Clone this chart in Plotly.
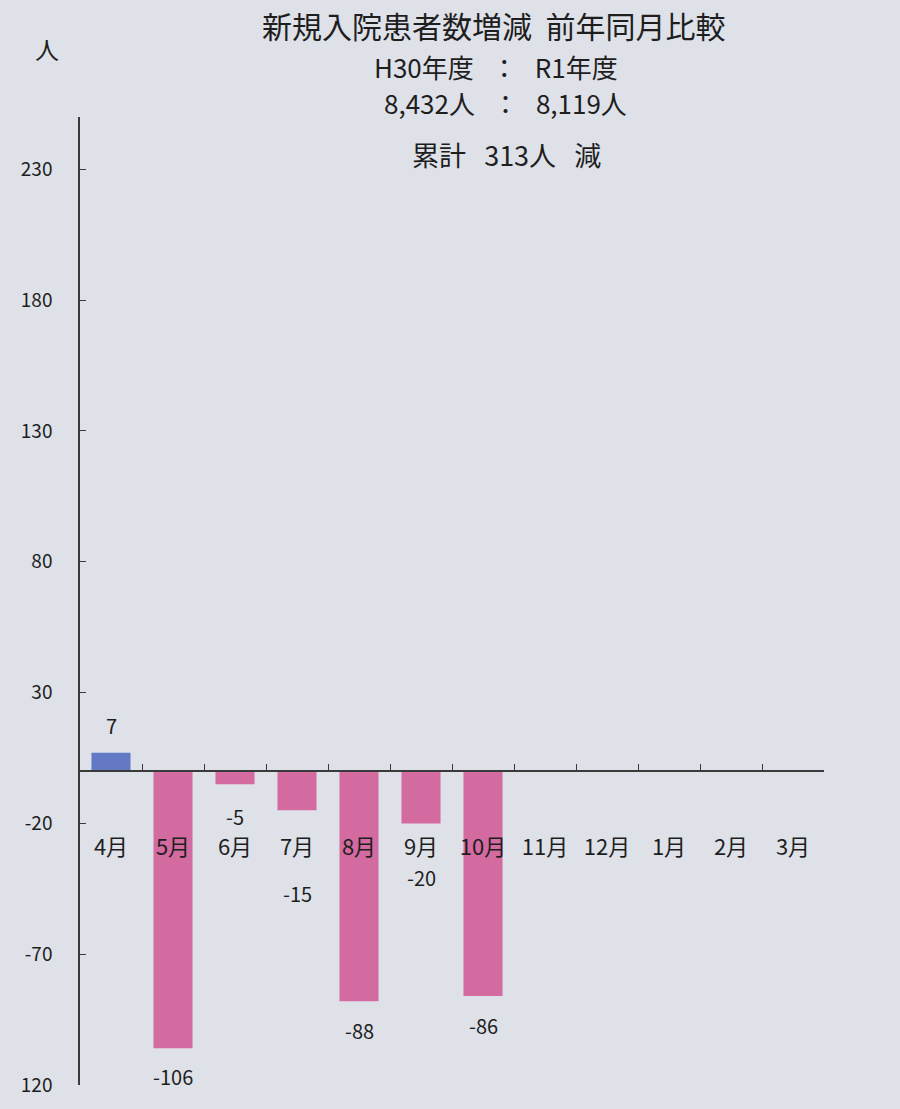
import plotly.graph_objects as go

# ---- data ----
months = ["4月", "5月", "6月", "7月", "8月", "9月", "10月", "11月", "12月", "1月", "2月", "3月"]
diff_values = [7, -106, -5, -15, -88, -20, -86, None, None, None, None, None]
y_tick_vals = [230, 180, 130, 80, 30, -20, -70, -120]
y_tick_text = ["230", "180", "130", "80", "30", "-20", "-70", "120"]
SP2 = "\u00a0\u00a0"
SP3 = "\u00a0\u00a0\u00a0"
title_lines = [
    "新規入院患者数増減" + SP2 + "前年同月比較",
    "H30年度" + SP3 + "：" + SP3 + "R1年度",
    "8,432人" + SP3 + "：" + SP3 + "8,119人",
    "累計" + SP3 + "313人" + SP3 + "減",
]

# ---- styles ----
FONT = "Noto Sans CJK JP"
TXT = "#1e1e1e"
BLUE = "#6479c4"
PINK = "#d36aa0"
BG = "#dee1e8"
label_offsets = [27, 28, 32, 83, 29, 54, 29, 0, 0, 0, 0, 0]  # px from bar end to label centre
Y_MIN, Y_MAX = -120, 250

L, R, T, B = 80, 76, 117, 20
W, H = 900, 1109
pw, ph = W - L - R, H - T - B


def px_x(x):
    return (x - L) / pw


def px_y(y):
    return (H - y - B) / ph


colors = [BLUE if (v is not None and v >= 0) else PINK for v in diff_values]

fig = go.Figure()
fig.add_trace(go.Bar(
    x=months, y=diff_values, marker=dict(color=colors, line=dict(width=0)),
    width=0.63, hoverinfo="skip", showlegend=False,
))

for m, v, off in zip(months, diff_values, label_offsets):
    if v is None:
        continue
    fig.add_annotation(
        x=m, y=v, xref="x", yref="y", text=str(v),
        showarrow=False, yanchor="middle", yshift=off if v >= 0 else -off,
        font=dict(family=FONT, size=20, color=TXT),
    )

title_y = [25, 66, 102, 155]
title_sizes = [30, 26, 26, 27]
title_x = [494, 496, 505, 506]
for t, yy, s, xx in zip(title_lines, title_y, title_sizes, title_x):
    fig.add_annotation(
        x=px_x(xx), y=px_y(yy), xref="paper", yref="paper", text=t, showarrow=False,
        xanchor="center", yanchor="middle", font=dict(family=FONT, size=s, color=TXT),
    )

fig.add_annotation(
    x=px_x(47), y=px_y(48), xref="paper", yref="paper", text="人",
    showarrow=False, xanchor="center", yanchor="middle",
    font=dict(family=FONT, size=24, color=TXT),
)

fig.update_layout(
    width=W, height=H,
    margin=dict(l=L, r=R, t=T, b=B, pad=0),
    paper_bgcolor=BG, plot_bgcolor=BG,
    font=dict(family=FONT, color=TXT),
    bargap=0.37,
    xaxis=dict(
        type="category", categoryorder="array", categoryarray=months,
        anchor="free", position=(0 - Y_MIN) / (Y_MAX - Y_MIN),
        showline=True, linecolor="#3a3a3a", linewidth=1.5,
        ticks="inside", ticklen=6, tickcolor="#3a3a3a", tickwidth=1.2,
        tickson="boundaries", showgrid=False, zeroline=False,
        tickfont=dict(family=FONT, size=22, color=TXT),
        ticklabelstandoff=57,
    ),
    yaxis=dict(
        range=[Y_MIN, Y_MAX], tickvals=y_tick_vals, ticktext=y_tick_text,
        showline=True, linecolor="#3a3a3a", linewidth=1.5,
        ticks="inside", ticklen=6, tickcolor="#3a3a3a", tickwidth=1.2,
        showgrid=False, zeroline=False,
        tickfont=dict(family=FONT, size=19, color=TXT),
        ticklabelstandoff=22,
    ),
)

fig.write_html(
    "out.html",
    config={"displayModeBar": False},
    post_script="document.body.style.margin='0';document.body.style.background='" + BG + "';",
)
